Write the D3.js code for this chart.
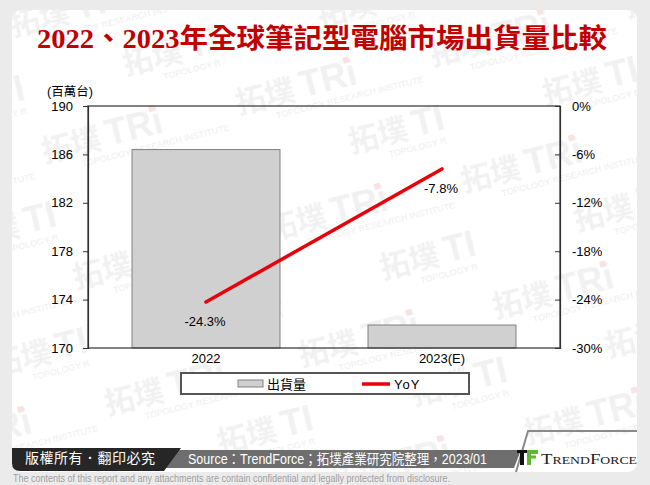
<!DOCTYPE html>
<html><head><meta charset="utf-8">
<script src="https://cdn.jsdelivr.net/npm/d3@7/dist/d3.min.js"></script>
<style>
html,body{margin:0;padding:0;background:#ebebeb;}
svg{display:block;font-family:"Liberation Sans",Arial,"Noto Sans CJK TC",sans-serif;}
</style></head>
<body>
<script>
const categories = ["2022", "2023(E)"];
const shipments = [186.4, 171.9];
const yoy = [-24.3, -7.8];
const yoyLabels = ["-24.3%", "-7.8%"];
const leftTicks = [170, 174, 178, 182, 186, 190];
const rightTicks = [0, -6, -12, -18, -24, -30];
const title = "2022、2023年全球筆記型電腦市場出貨量比較";
const unitLabel = "(百萬台)";
const legendNames = ["出貨量", "YoY"];
const footerLeft = "版權所有．翻印必究";
const footerSource = "Source：TrendForce；拓墣產業研究院整理，2023/01";
const disclaimer = "The contents of this report and any attachments are contain confidential and legally protected from disclosure.";

const W = 650, H = 485;
const svg = d3.select("body").append("svg").attr("width", W).attr("height", H);
const defs = svg.append("defs");

// watermark pattern
const pat = defs.append("pattern").attr("id", "wm").attr("patternUnits", "userSpaceOnUse")
  .attr("width", 200).attr("height", 130).attr("patternTransform", "rotate(-14)");
[[0, 0], [100, 65]].forEach(([ox, oy]) => {
  const g = pat.append("g").attr("transform", `translate(${ox},${oy})`);
  g.append("text").attr("x", 4).attr("y", 38).attr("font-size", 30).attr("font-weight", "bold")
    .attr("font-family", "Noto Sans CJK TC").attr("fill", "#f1f1f1").text("拓墣");
  g.append("text").attr("x", 70).attr("y", 38).attr("font-size", 36).attr("font-weight", "bold")
    .attr("fill", "#f1f1f1").text("TRi");
  g.append("rect").attr("x", 118).attr("y", 9).attr("width", 6).attr("height", 6).attr("fill", "#f8e2e2");
  g.append("text").attr("x", 40).attr("y", 52).attr("font-size", 9).attr("fill", "#ececec").text("TOPOLOGY RESEARCH INSTITUTE");
});

// card
defs.append("clipPath").attr("id", "cardclip").append("rect")
  .attr("x", 12).attr("y", 10).attr("width", 625).attr("height", 462).attr("rx", 9);
svg.append("rect").attr("x", 12).attr("y", 10).attr("width", 625).attr("height", 462).attr("rx", 9).attr("fill", "#fff");
svg.append("rect").attr("x", 12).attr("y", 10).attr("width", 625).attr("height", 462)
  .attr("clip-path", "url(#cardclip)").attr("fill", "url(#wm)");

// title
svg.append("text").attr("x", 37).attr("y", 48)
  .attr("font-family", "'Liberation Serif','Noto Sans CJK TC',serif").attr("font-weight", "bold")
  .attr("font-size", 27).attr("fill", "#c00000")
  .attr("textLength", 570).attr("lengthAdjust", "spacingAndGlyphs").text(title);

// plot
const L = 88, R = 560, T = 106, B = 348;
const x = d3.scaleBand().domain(categories).range([L, R]).paddingInner(0.373).paddingOuter(0.1865);
const yL = d3.scaleLinear().domain([170, 190]).range([B, T]);
const yR = d3.scaleLinear().domain([-30, 0]).range([B, T]);

// bars
svg.append("g").selectAll("rect").data(categories).join("rect")
  .attr("x", d => x(d)).attr("width", x.bandwidth())
  .attr("y", (d, i) => yL(shipments[i])).attr("height", (d, i) => B - yL(shipments[i]))
  .attr("fill", "#d0d0d0").attr("stroke", "#808080").attr("stroke-width", 1);

// frame
svg.append("rect").attr("x", L).attr("y", T).attr("width", R - L).attr("height", B - T)
  .attr("fill", "none").attr("stroke", "#303030").attr("stroke-width", 1.2);

// axes
const axL = svg.append("g").attr("transform", `translate(${L},0)`)
  .call(d3.axisLeft(yL).tickValues(leftTicks).tickSize(5).tickPadding(10).tickFormat(d3.format("d")));
const axR = svg.append("g").attr("transform", `translate(${R},0)`)
  .call(d3.axisRight(yR).tickValues(rightTicks).tickSize(-5).tickPadding(12).tickFormat(d => d + "%"));
const axB = svg.append("g").attr("transform", `translate(0,${B})`)
  .call(d3.axisBottom(x).tickSize(0).tickPadding(6));
[axL, axR, axB].forEach(a => {
  a.select(".domain").attr("stroke", "#303030").attr("stroke-width", 1.2);
  a.selectAll(".tick line").attr("stroke", "#303030");
  a.selectAll("text").attr("font-size", 13).attr("fill", "#000")
    .attr("font-family", "'Liberation Sans',Arial,sans-serif");
});
axB.select(".domain").remove();
axR.selectAll(".tick text").attr("x", 12);

svg.append("text").attr("x", 47).attr("y", 96).attr("font-size", 12.5).attr("fill", "#000").text(unitLabel);

// line
const pts = categories.map((c, i) => [x(c) + x.bandwidth() / 2, yR(yoy[i])]);
svg.append("path").attr("d", d3.line()(pts)).attr("fill", "none")
  .attr("stroke", "#e8000b").attr("stroke-width", 3.5).attr("stroke-linecap", "round");
svg.append("g").selectAll("text").data(pts).join("text")
  .attr("x", d => d[0] - 1).attr("y", d => d[1] + 24).attr("text-anchor", "middle")
  .attr("font-size", 13).attr("fill", "#000").text((d, i) => yoyLabels[i]);

// legend
svg.append("rect").attr("x", 181).attr("y", 373).attr("width", 288).attr("height", 21)
  .attr("fill", "#fff").attr("stroke", "#555").attr("stroke-width", 2);
svg.append("rect").attr("x", 238).attr("y", 380).attr("width", 25).attr("height", 7)
  .attr("fill", "#d0d0d0").attr("stroke", "#808080");
svg.append("text").attr("x", 267).attr("y", 389).attr("font-size", 13).attr("fill", "#000")
  .attr("font-family", "'Noto Sans CJK TC',sans-serif").text(legendNames[0]);
svg.append("line").attr("x1", 362).attr("x2", 390).attr("y1", 384).attr("y2", 384)
  .attr("stroke", "#e8000b").attr("stroke-width", 3.5);
svg.append("text").attr("x", 394).attr("y", 389).attr("font-size", 13).attr("fill", "#000")
  .attr("letter-spacing", 1).text(legendNames[1]);

// footer
svg.append("path").attr("d", "M 170 450 L 521 450 L 514 468 L 163 468 Z").attr("fill", "#6e6e6e");
svg.append("path").attr("d", "M 12 448 L 181 448 L 164 471 L 20 471 Q 12 471 12 463 Z").attr("fill", "#262626");
svg.append("path").attr("d", "M 516 472 L 528 431 L 637 431").attr("fill", "none")
  .attr("stroke", "#8a8a8a").attr("stroke-width", 2);
svg.append("text").attr("x", 25).attr("y", 463).attr("font-size", 14).attr("fill", "#fff")
  .attr("font-family", "'Noto Sans CJK TC',sans-serif").attr("textLength", 130).text(footerLeft);
svg.append("text").attr("x", 188).attr("y", 464).attr("font-size", 14).attr("fill", "#fff")
  .attr("font-family", "'Liberation Sans Narrow','Liberation Sans','Noto Sans CJK TC',sans-serif")
  .attr("textLength", 299).attr("lengthAdjust", "spacingAndGlyphs").text(footerSource);
// logo
svg.append("rect").attr("x", 517).attr("y", 450).attr("width", 10).attr("height", 3).attr("fill", "#111");
svg.append("rect").attr("x", 520).attr("y", 453).attr("width", 4).attr("height", 12).attr("fill", "#111");
svg.append("rect").attr("x", 527).attr("y", 450).attr("width", 11).attr("height", 4).attr("fill", "#5cb82e");
svg.append("rect").attr("x", 527).attr("y", 455.5).attr("width", 9).attr("height", 3).attr("fill", "#5cb82e");
svg.append("rect").attr("x", 527).attr("y", 450).attr("width", 4).attr("height", 15).attr("fill", "#5cb82e");
svg.append("text").attr("x", 541).attr("y", 464).attr("font-size", 15)
  .attr("font-family", "'Liberation Serif',serif").attr("fill", "#222")
  .attr("font-variant", "small-caps").attr("textLength", 96).attr("lengthAdjust", "spacingAndGlyphs").text("TrendForce");
svg.append("text").attr("x", 13).attr("y", 482).attr("font-size", 10.5).attr("fill", "#a0a0a0")
  .attr("font-family", "'Liberation Sans Narrow','Liberation Sans',sans-serif")
  .attr("textLength", 437).attr("lengthAdjust", "spacingAndGlyphs").text(disclaimer);
</script>
</body></html>
